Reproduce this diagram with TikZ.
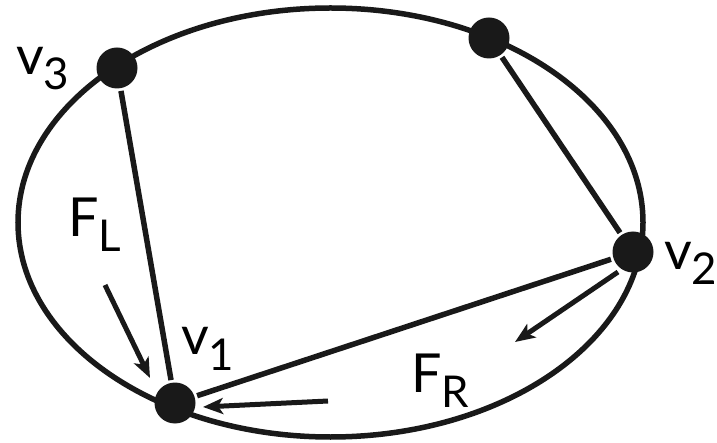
\documentclass[tikz,border=0pt]{standalone}
\usepackage{fontspec}
\setmainfont{Lato}
\usetikzlibrary{arrows.meta}
\newcommand\sublab[1]{\kern-1bp\raisebox{-15bp}{\fontsize{44}{48}\selectfont #1}}
\begin{document}
\begin{tikzpicture}[x=1bp,y=-1bp,line width=5.5bp,
  >={Stealth[length=20bp,width=16bp,inset=5bp]},
  vertex/.style={circle,fill=black!90,minimum size=41bp,inner sep=0pt},
  lab/.style={anchor=base west,inner sep=0pt,font=\fontsize{54}{58}\selectfont}]
  \useasboundingbox (0,0) rectangle (717,443);
  \draw[black!90] (330.5,222.5) ellipse [x radius=312.5,y radius=214.5];
  \foreach \n/\x/\y in {v1/175/403,v2/633/252,v3/117/68,v4/489/38}
    \node[vertex] (\n) at (\x,\y) {};
  \draw[black!90] (v3) -- (v1) (v4) -- (v2) (v1) -- (v2);
  % labels
  \node[lab] (l3) at (14,75) {v\sublab{3}};
  \node[lab] (l1) at (179,355) {v\sublab{1}};
  \node[lab] (l2) at (662,270) {v\sublab{2}};
  \node[lab] (fl) at (66,237) {F\sublab{L}};
  \node[lab] (fr) at (409,392) {F\sublab{R}};
  % forces
  \coordinate (fl0) at (105,285);  \coordinate (fl1) at (150,378);
  \coordinate (fr0) at (618,272);  \coordinate (fr1) at (515,342);
  \coordinate (fb0) at (328,401);  \coordinate (fb1) at (203,407);
  \draw[->,line width=5bp,black!90] (fl0) -- (fl1);
  \draw[->,line width=5bp,black!90] (fr0) -- (fr1);
  \draw[->,line width=5bp,black!90] (fb0) -- (fb1);
\end{tikzpicture}
\end{document}
